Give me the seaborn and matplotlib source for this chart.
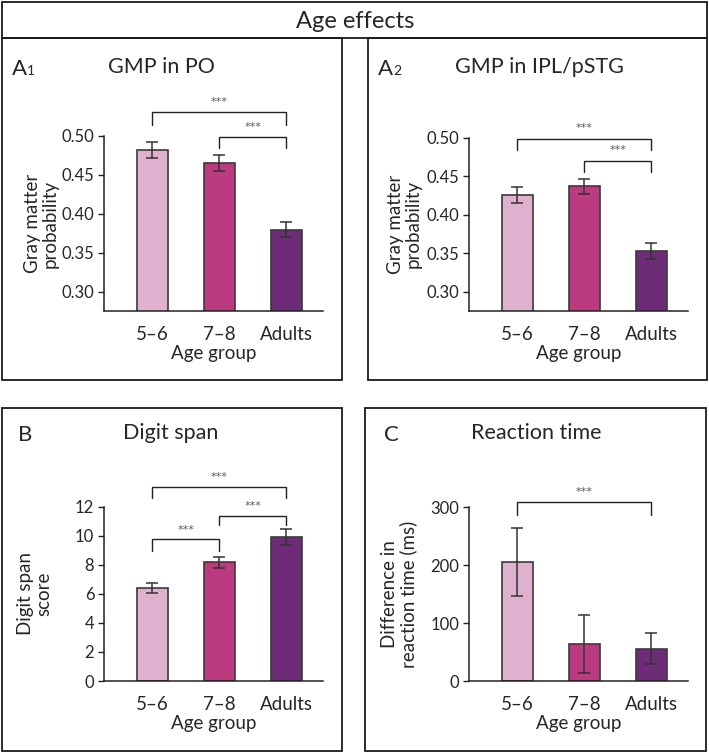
import numpy as np
import pandas as pd
import seaborn as sns
import matplotlib.pyplot as plt
from matplotlib.patches import Rectangle

# data
groups = ["5\u20136", "7\u20138", "Adults"]
bar_colors = ["#E0B1CF", "#BC3B80", "#6E2C78"]

gmp_po = [0.482, 0.465, 0.380]
gmp_po_err = [0.010, 0.010, 0.010]

gmp_ipl = [0.426, 0.437, 0.353]
gmp_ipl_err = [0.010, 0.010, 0.010]

digit_span = [6.43, 8.18, 9.93]
digit_span_err = [0.35, 0.38, 0.55]

reaction = [205, 64, 56]
reaction_err = [59, 50, 26]

W, H = 709, 753

sns.set_theme(style="white")
plt.rcParams["font.family"] = ["Lato", "DejaVu Sans"]

fig = plt.figure(figsize=(W / 100, H / 100), dpi=100)


def px_axes(left, top, right, bottom):
    return fig.add_axes([left / W, 1 - bottom / H, (right - left) / W, (bottom - top) / H])


def px_box(left, top, right, bottom, lw=1.3):
    fig.add_artist(Rectangle((left / W, 1 - bottom / H), (right - left) / W, (bottom - top) / H,
                             transform=fig.transFigure, fill=False, edgecolor="#1a1a1a", lw=lw))


def bracket(ax, i, j, y_bar, y_end, y_star):
    ax.plot([i, i, j, j], [y_end, y_bar, y_bar, y_end], color="#222222", lw=1.0,
            clip_on=False, solid_joinstyle="miter")
    ax.text((i + j) / 2, y_star, "***", ha="center", va="center", fontsize=8,
            color="#5a5a5a", family="DejaVu Sans")


def panel(ax, vals, errs, ylim, ticks, ticklabels, spine_top, ylabel, label_x):
    df = pd.DataFrame({"group": groups, "value": vals})
    sns.barplot(data=df, x="group", y="value", hue="group", palette=bar_colors, legend=False,
                width=0.46, saturation=1, edgecolor="#3a3a3a", linewidth=1.2, errorbar=None, ax=ax)
    ax.errorbar(range(len(groups)), vals, yerr=errs, fmt="none", ecolor="#333333",
                elinewidth=1.1, capsize=4, capthick=1.1)
    ax.set_xlim(-0.72, 2.55)
    ax.set_ylim(*ylim)
    ax.set_yticks(ticks)
    ax.set_yticklabels(ticklabels, fontsize=12)
    ax.tick_params(axis="y", left=True, length=4, width=1.0, pad=3, color="#222222")
    ax.tick_params(axis="x", bottom=False, labelsize=13.5, pad=5)
    for s in ["top", "right"]:
        ax.spines[s].set_visible(False)
    ax.spines["left"].set_bounds(ylim[0], spine_top)
    ax.spines["left"].set_color("#222222")
    ax.spines["bottom"].set_color("#222222")
    ax.spines["left"].set_linewidth(1.1)
    ax.spines["bottom"].set_linewidth(1.1)
    ax.set_xlabel("Age group", fontsize=13.5, labelpad=1)
    ax.set_ylabel(ylabel, fontsize=13.5, linespacing=1.05)
    # label centred on the axis, right edge placed as in the original
    ax.yaxis.set_label_coords(label_x, 0.5 * (spine_top - ylim[0]) / (ylim[1] - ylim[0]))
    ax.patch.set_alpha(0)


# panel boxes
px_box(2, 2, 707, 38)
px_box(2, 38, 342, 380)
px_box(368, 38, 707, 380)
px_box(2, 408, 342, 751)
px_box(365, 408, 706, 751)

fig.text(355 / W, 1 - 21 / H, "Age effects", ha="center", va="center", fontsize=17)

# A1
ax1 = px_axes(104, 100, 323, 311)
panel(ax1, gmp_po, gmp_po_err, (0.2756, 0.546), [0.30, 0.35, 0.40, 0.45, 0.50],
      ["0.30", "0.35", "0.40", "0.45", "0.50"], 0.50, "Gray matter\nprobability", -0.205)
bracket(ax1, 0, 2, 0.531, 0.514, 0.544)
bracket(ax1, 1, 2, 0.499, 0.485, 0.511)

# A2
ax2 = px_axes(469, 100, 688, 311)
panel(ax2, gmp_ipl, gmp_ipl_err, (0.2753, 0.549), [0.30, 0.35, 0.40, 0.45, 0.50],
      ["0.30", "0.35", "0.40", "0.45", "0.50"], 0.50, "Gray matter\nprobability", -0.215)
bracket(ax2, 0, 2, 0.499, 0.484, 0.513)
bracket(ax2, 1, 2, 0.470, 0.455, 0.484)

# B
ax3 = px_axes(104, 470, 323, 681)
panel(ax3, digit_span, digit_span_err, (0, 14.55), [0, 2, 4, 6, 8, 10, 12],
      ["0", "2", "4", "6", "8", "10", "12"], 12, "Digit span\nscore", -0.237)
bracket(ax3, 0, 2, 13.38, 12.62, 14.1)
bracket(ax3, 1, 2, 11.38, 10.76, 12.05)
bracket(ax3, 0, 1, 9.79, 8.95, 10.4)

# C
ax4 = px_axes(469, 470, 688, 681)
panel(ax4, reaction, reaction_err, (0, 364), [0, 100, 200, 300],
      ["0", "100", "200", "300"], 300, "Difference in\nreaction time (ms)", -0.237)
bracket(ax4, 0, 2, 309, 286, 326)

# titles and panel letters
for x_title, y, title in [(161, 67, "GMP in PO"), (539, 67, "GMP in IPL/pSTG"),
                          (171, 433, "Digit span"), (536, 433, "Reaction time")]:
    fig.text(x_title / W, 1 - y / H, title, ha="center", va="center", fontsize=15.5)

for x, y, letter, sub in [(12, 67, "A", "1"), (378, 67, "A", "2"),
                          (18, 433, "B", ""), (384, 433, "C", "")]:
    fig.text(x / W, 1 - (y + 8) / H, letter, ha="left", va="baseline", fontsize=16)
    if sub:
        fig.text((x + 15) / W, 1 - (y + 8) / H, sub, ha="left", va="baseline", fontsize=10)

fig.savefig("out.png", dpi=100)
